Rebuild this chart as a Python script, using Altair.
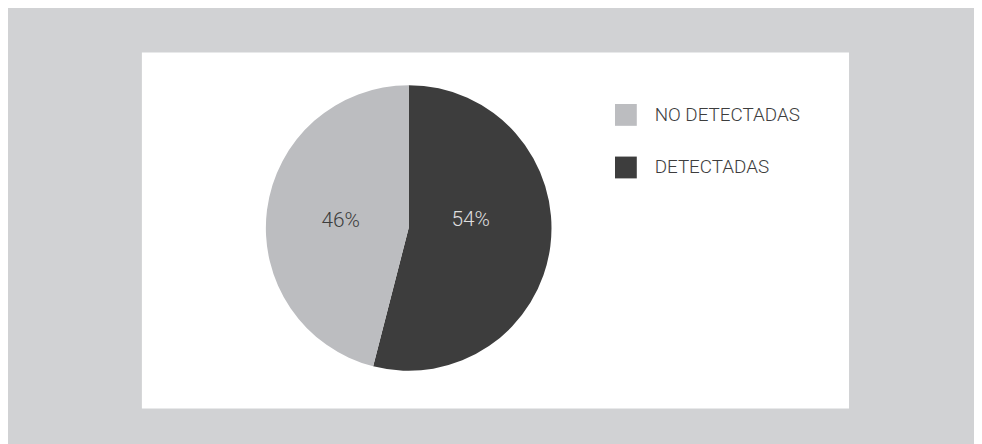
import altair as alt
import pandas as pd

categories = ["DETECTADAS", "NO DETECTADAS"]
values = [54, 46]
labels = ["54%", "46%"]
stack_order = [0, 1]
legend_order = ["NO DETECTADAS", "DETECTADAS"]
colors = ["#bcbdc0", "#3d3d3d"]

df = pd.DataFrame({
    "categoria": categories,
    "valor": values,
    "etiqueta": labels,
    "orden": stack_order,
})

FONT = "Roboto"
CX, CY = 269, 177
theta_scale = alt.Scale(domain=[0, 100])

pie = alt.Chart(df).mark_arc(outerRadius=144, strokeWidth=0).encode(
    theta=alt.Theta("valor:Q", stack=True, scale=theta_scale),
    order=alt.Order("orden:Q"),
    x=alt.value(CX),
    y=alt.value(CY),
    color=alt.Color(
        "categoria:N",
        scale=alt.Scale(domain=legend_order, range=colors),
        legend=alt.Legend(
            title=None,
            orient="none",
            legendX=477,
            legendY=52,
            symbolType="square",
            symbolSize=484,
            symbolStrokeWidth=0,
            symbolOpacity=1,
            labelFont=FONT,
            labelFontSize=19,
            labelFontWeight=300,
            labelColor="#3d3d3d",
            labelOffset=18,
            rowPadding=31,
            padding=0,
        ),
    ),
)

text_base = (
    alt.Chart(df)
    .transform_stack(
        stack="valor",
        as_=["v0", "v1"],
        groupby=[],
        sort=[alt.SortField("orden", order="ascending")],
    )
    .transform_calculate(mid="(datum.v0 + datum.v1) / 2")
)

text_enc = dict(
    theta=alt.Theta("mid:Q", stack=None, scale=theta_scale),
    x=alt.value(CX),
    y=alt.value(CY),
    text=alt.Text("etiqueta:N"),
)

text_dark = (
    text_base.transform_filter("datum.categoria == 'NO DETECTADAS'")
    .mark_text(radius=66, font=FONT, fontSize=21, fontWeight=300,
               baseline="middle", dx=-3, dy=1, color="#3d3d3d")
    .encode(**text_enc)
)

text_light = (
    text_base.transform_filter("datum.categoria == 'DETECTADAS'")
    .mark_text(radius=66, font=FONT, fontSize=21, fontWeight=300,
               baseline="middle", dx=-3, dy=-16, color="#dedede")
    .encode(**text_enc)
)

chart = (
    alt.layer(pie, text_dark, text_light)
    .properties(
        width=713,
        height=359,
        autosize="none",
        padding={"left": 135, "top": 43, "right": 126, "bottom": 34},
        background="#d1d2d4",
    )
    .configure_view(fill="white", strokeWidth=0)
)

chart.save("out.html", embed_options={"renderer": "svg", "actions": False})
